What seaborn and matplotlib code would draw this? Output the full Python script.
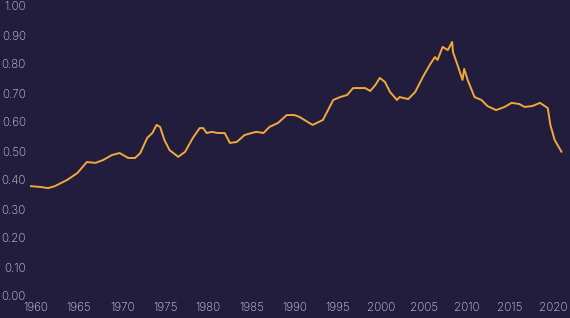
import matplotlib
matplotlib.use("Agg")
import matplotlib.pyplot as plt
import seaborn as sns
import pandas as pd

years = [1959.3, 1960.5, 1961.4, 1962.2, 1963.6, 1964.8, 1965.9, 1966.9, 1967.8, 1968.8,
         1969.7, 1970.7, 1971.5, 1972.1, 1972.9, 1973.5, 1974.0, 1974.4, 1974.9, 1975.5,
         1976.5, 1977.3, 1978.2, 1979.0, 1979.4, 1979.8, 1980.4, 1981.1, 1981.9, 1982.5,
         1983.3, 1984.2, 1985.0, 1985.6, 1986.4, 1987.1, 1988.1, 1989.1, 1990.0, 1990.6,
         1992.1, 1993.3, 1994.5, 1995.3, 1996.1, 1996.8, 1998.2, 1998.8, 1999.4, 1999.9,
         2000.5, 2001.1, 2001.9, 2002.2, 2003.2, 2004.0, 2004.9, 2005.7, 2006.3, 2006.6,
         2007.2, 2007.8, 2008.3, 2008.4, 2009.0, 2009.5, 2009.7, 2010.1, 2010.9, 2011.7,
         2012.4, 2013.4, 2014.4, 2015.2, 2016.1, 2016.7, 2017.6, 2018.5, 2019.4, 2019.7,
         2020.2, 2021.0]
values = [0.379, 0.376, 0.372, 0.379, 0.400, 0.424, 0.462, 0.459, 0.469, 0.486,
          0.493, 0.476, 0.476, 0.493, 0.545, 0.562, 0.590, 0.583, 0.538, 0.503,
          0.480, 0.497, 0.545, 0.579, 0.579, 0.562, 0.566, 0.562, 0.562, 0.528,
          0.531, 0.555, 0.562, 0.566, 0.562, 0.583, 0.597, 0.624, 0.624, 0.617,
          0.590, 0.607, 0.676, 0.686, 0.693, 0.717, 0.717, 0.707, 0.728, 0.752,
          0.738, 0.703, 0.676, 0.686, 0.679, 0.703, 0.755, 0.797, 0.824, 0.814,
          0.859, 0.848, 0.876, 0.841, 0.790, 0.745, 0.783, 0.745, 0.686, 0.676,
          0.655, 0.641, 0.652, 0.666, 0.662, 0.652, 0.655, 0.666, 0.648, 0.590,
          0.538, 0.497]
x_ticks = [1960, 1965, 1970, 1975, 1980, 1985, 1990, 1995, 2000, 2005, 2010, 2015, 2020]
y_ticks = [0.0, 0.1, 0.2, 0.3, 0.4, 0.5, 0.6, 0.7, 0.8, 0.9, 1.0]

df = pd.DataFrame({"year": years, "value": values})

bg = "#221c3d"
line_color = "#f2a93c"
text_color = "#d6d3e0"

sns.set_theme(style="dark")
plt.rcParams["font.family"] = ["Inter", "DejaVu Sans"]

fig = plt.figure(figsize=(5.70, 3.18), dpi=100, facecolor=bg)
ax = fig.add_axes([30 / 570, 22 / 318, 535 / 570, 290 / 318])
ax.set_facecolor(bg)

sns.lineplot(data=df, x="year", y="value", ax=ax, color=line_color, linewidth=1.4)

ax.set_xlim(1959.3, 2021.4)
ax.set_ylim(0, 1.0)
ax.set_xticks(x_ticks)
ax.set_xticklabels([str(t) for t in x_ticks])
ax.set_yticks(y_ticks)
ax.set_yticklabels([f"{t:.2f}" for t in y_ticks])
ax.tick_params(axis="both", length=0, colors=text_color, labelsize=8.4)
ax.tick_params(axis="x", pad=4)
ax.tick_params(axis="y", pad=3)
for lbl in ax.get_xticklabels() + ax.get_yticklabels():
    lbl.set_fontweight("light")
ax.set_xlabel("")
ax.set_ylabel("")
ax.grid(False)
for s in ax.spines.values():
    s.set_visible(False)

fig.savefig("out.png", dpi=100, facecolor=bg)
